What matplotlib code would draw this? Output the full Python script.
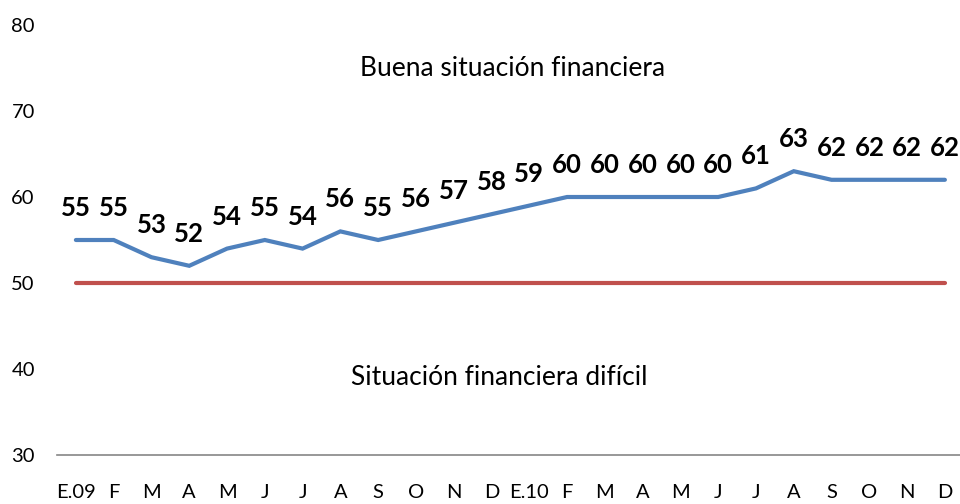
import matplotlib
matplotlib.use('Agg')
import matplotlib.pyplot as plt

# data
months = ['E.09', 'F', 'M', 'A', 'M', 'J', 'J', 'A', 'S', 'O', 'N', 'D',
          'E.10', 'F', 'M', 'A', 'M', 'J', 'J', 'A', 'S', 'O', 'N', 'D']
indice = [55, 55, 53, 52, 54, 55, 54, 56, 55, 56, 57, 58,
          59, 60, 60, 60, 60, 60, 61, 63, 62, 62, 62, 62]
umbral = [50] * len(months)
y_ticks = [30, 40, 50, 60, 70, 80]

plt.rcParams['font.family'] = ['Lato', 'DejaVu Sans']

fig = plt.figure(figsize=(9.6, 5.04), dpi=100)
ax = fig.add_axes([57 / 960, 49 / 504, 903 / 960, 430 / 504])

x = list(range(len(months)))
ax.plot(x, umbral, color='#C0504D', lw=3, solid_capstyle='round')
ax.plot(x, indice, color='#4F81BD', lw=3, solid_capstyle='round', solid_joinstyle='miter')

for xi, v in zip(x, indice):
    ax.annotate(str(v), (xi, v), xytext=(0, 23), textcoords='offset points',
                ha='center', va='center', fontsize=18.5, fontweight='bold', color='black')

ax.text(11.55, 75, 'Buena situación financiera', ha='center', va='center', fontsize=19)
ax.text(11.2, 39, 'Situación financiera difícil', ha='center', va='center', fontsize=19)

ax.set_xlim(-0.5, 23.4)
ax.set_ylim(30, 80)
ax.set_yticks(y_ticks)
ax.set_xticks(x)
ax.set_xticklabels(months)

for s in ['top', 'right', 'left']:
    ax.spines[s].set_visible(False)
ax.spines['bottom'].set_color('#868686')
ax.spines['bottom'].set_linewidth(1.2)
ax.tick_params(axis='both', length=0, labelsize=14.5)
ax.tick_params(axis='y', pad=16)
ax.tick_params(axis='x', pad=21)

fig.savefig('out.png', dpi=100)
